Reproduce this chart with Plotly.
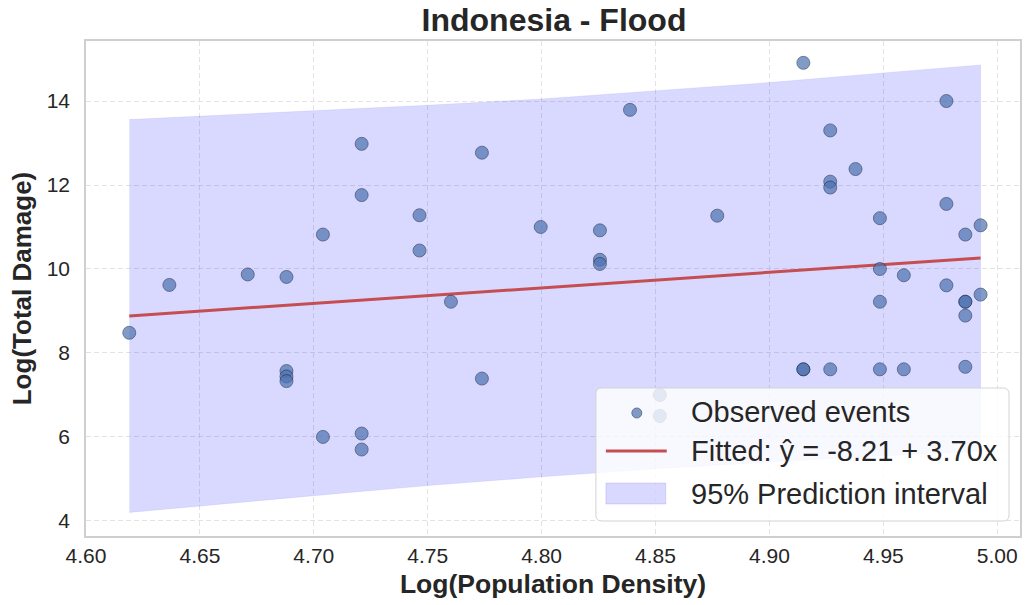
import plotly.graph_objects as go

# ---- data ----
pop_density_log = [4.619, 4.6366, 4.671, 4.688, 4.688, 4.688, 4.688, 4.704, 4.704,
                   4.721, 4.721, 4.721, 4.721, 4.7464, 4.7464, 4.7602, 4.7738, 4.7738,
                   4.7996, 4.8256, 4.8256, 4.8256, 4.8388, 4.8519, 4.8519, 4.8771,
                   4.9149, 4.9149, 4.9149, 4.9267, 4.9267, 4.9267, 4.9267, 4.9378,
                   4.9485, 4.9485, 4.9485, 4.9485, 4.959, 4.959, 4.9777, 4.9777, 4.9777,
                   4.986, 4.986, 4.986, 4.986, 4.986, 4.9927, 4.9927]
damage_log = [8.48, 9.62, 9.87, 9.81, 7.57, 7.44, 7.33, 10.82, 6.00,
              12.98, 11.76, 6.08, 5.70, 11.28, 10.44, 9.22, 12.77, 7.39,
              11.00, 10.92, 10.22, 10.12, 13.79, 7.00, 6.50, 11.27,
              14.91, 7.61, 7.61, 13.30, 12.08, 11.94, 7.61, 12.38,
              11.21, 10.00, 9.22, 7.61, 9.85, 7.61, 14.00, 11.55, 9.61,
              10.82, 9.22, 9.22, 8.89, 7.67, 11.04, 9.39]

fit_intercept = -8.21
fit_slope = 3.70

band_x = [4.619, 4.70, 4.75, 4.80, 4.85, 4.90, 4.95, 4.9927]
band_upper = [13.56, 13.76, 13.90, 14.05, 14.24, 14.44, 14.67, 14.86]
band_lower = [4.20, 4.60, 4.84, 5.05, 5.24, 5.40, 5.55, 5.66]

x_ticks = [4.60, 4.65, 4.70, 4.75, 4.80, 4.85, 4.90, 4.95, 5.00]
y_ticks = [4, 6, 8, 10, 12, 14]

legend_labels = ["Observed events",
                 f"Fitted: ŷ = {fit_intercept:.2f} + {fit_slope:.2f}x",
                 "95% Prediction interval"]

FONT = "Liberation Sans, Arial, Helvetica, sans-serif"
TXT = "#262626"
PT_COLOR = "#4C72B0"
PT_EDGE = "#1a2444"
FIT_COLOR = "#C44E52"
BAND_FILL = "rgba(0,0,255,0.15)"

W, H = 1025, 605
ML, MR, MT, MB = 86, 3, 41, 69
PW, PH = W - ML - MR, H - MT - MB


def px(xp):
    return (xp - ML) / PW


def py(yp):
    return (H - MB - yp) / PH


fit_x = [min(pop_density_log), max(pop_density_log)]
fit_y = [fit_intercept + fit_slope * v for v in fit_x]

fig = go.Figure()

fig.add_trace(go.Scatter(
    x=band_x + band_x[::-1],
    y=band_upper + band_lower[::-1],
    fill="toself", fillcolor=BAND_FILL,
    line=dict(width=0.6, color="rgba(0,0,255,0.12)"),
    mode="lines", name=legend_labels[2], hoverinfo="skip",
))

fig.add_trace(go.Scatter(
    x=fit_x, y=fit_y, mode="lines",
    line=dict(color=FIT_COLOR, width=3),
    name=legend_labels[1],
))

fig.add_trace(go.Scatter(
    x=pop_density_log, y=damage_log, mode="markers",
    marker=dict(size=13, color=PT_COLOR, opacity=0.7,
                line=dict(color=PT_EDGE, width=0.8)),
    name=legend_labels[0],
))

axis_common = dict(
    showgrid=True, gridcolor="#e3e3e3", griddash="5px,3px", gridwidth=1,
    showline=True, linecolor="#cfcfcf", linewidth=1.5, mirror=True,
    zeroline=False, ticks="",
    tickfont=dict(family=FONT, size=21, color=TXT),
)

# ---- legend drawn as a box with icons and text ----
bx0, bx1, by0, by1 = 597, 1011, 388, 521
r = 6
rx, ry = r / PW, r / PH
X0, X1, Y0, Y1 = px(bx0), px(bx1), py(by1), py(by0)
box_path = (f"M{X0+rx},{Y0} L{X1-rx},{Y0} Q{X1},{Y0} {X1},{Y0+ry} "
            f"L{X1},{Y1-ry} Q{X1},{Y1} {X1-rx},{Y1} L{X0+rx},{Y1} "
            f"Q{X0},{Y1} {X0},{Y1-ry} L{X0},{Y0+ry} Q{X0},{Y0} {X0+rx},{Y0} Z")

shapes = [
    dict(type="path", path=box_path, xref="paper", yref="paper", layer="above",
         fillcolor="rgba(255,255,255,0.8)", line=dict(color="#d4d4d4", width=1)),
    dict(type="circle", xref="paper", yref="paper", layer="above",
         x0=px(633), x1=px(643), y0=py(418), y1=py(408),
         fillcolor=PT_COLOR, opacity=0.7, line=dict(color=PT_EDGE, width=0.8)),
    dict(type="line", xref="paper", yref="paper", layer="above",
         x0=px(607), x1=px(668), y0=py(451), y1=py(451),
         line=dict(color=FIT_COLOR, width=3)),
    dict(type="rect", xref="paper", yref="paper", layer="above",
         x0=px(607), x1=px(667), y0=py(504), y1=py(483),
         fillcolor=BAND_FILL, line=dict(color="rgba(0,0,255,0.12)", width=1)),
]

row_y = [412, 451, 494]
annotations = [
    dict(text=lab, xref="paper", yref="paper", x=px(690), y=py(yy),
         xanchor="left", yanchor="middle", showarrow=False,
         font=dict(family=FONT, size=29, color=TXT))
    for lab, yy in zip(legend_labels, row_y)
]

fig.update_layout(
    width=W, height=H,
    paper_bgcolor="white", plot_bgcolor="white",
    margin=dict(l=ML, r=MR, t=MT, b=MB),
    showlegend=False,
    title=dict(text="Indonesia - Flood", x=0.5405, xanchor="center",
               y=0.967, yanchor="middle",
               font=dict(family=FONT, size=32, color=TXT, weight="bold")),
    xaxis=dict(range=[4.600, 5.010], tickvals=x_ticks,
               ticktext=[f"{v:.2f}" for v in x_ticks],
               title=dict(text="Log(Population Density)", standoff=8,
                          font=dict(family=FONT, size=26.5, color=TXT, weight="bold")),
               **axis_common),
    yaxis=dict(range=[3.64, 15.43], tickvals=y_ticks,
               title=dict(text="Log(Total Damage)", standoff=8,
                          font=dict(family=FONT, size=26, color=TXT, weight="bold")),
               ticklabelstandoff=10,
               **axis_common),
    shapes=shapes,
    annotations=annotations,
)

fig.write_html("out.html")
